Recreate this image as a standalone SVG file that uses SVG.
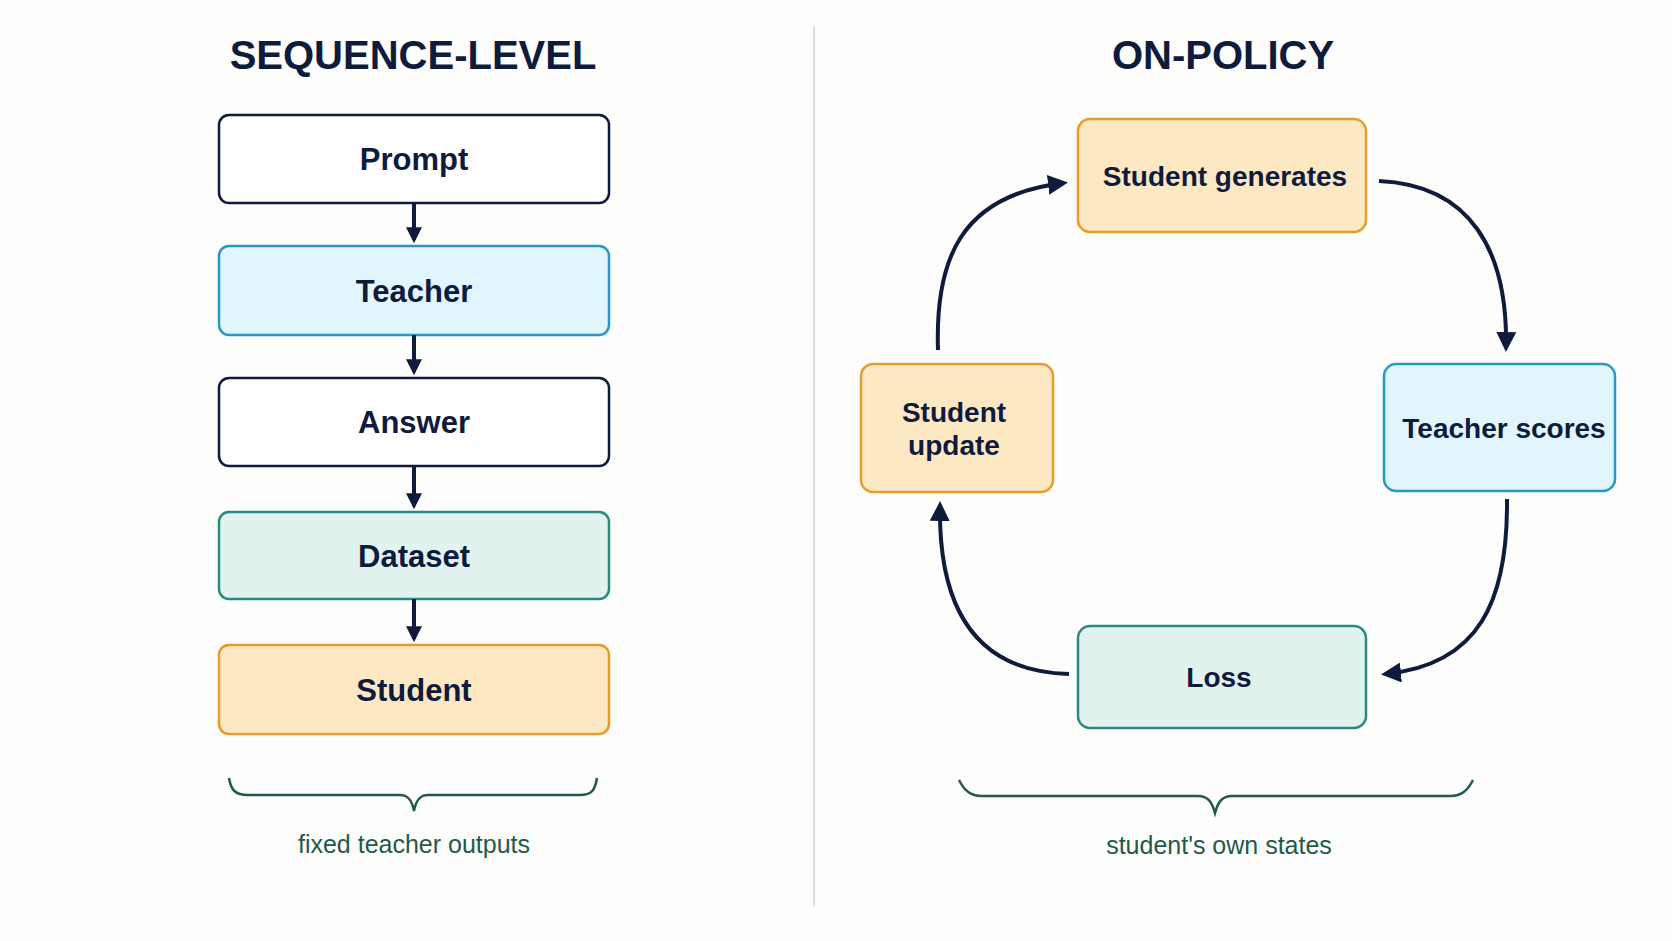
<svg xmlns="http://www.w3.org/2000/svg" width="1672" height="941" viewBox="0 0 1672 941">
<style>
.t{font-family:"Liberation Sans",Arial,sans-serif;font-weight:bold;fill:#0f1b3d;text-anchor:middle}
.h{font-size:40px}
.n{font-size:31px}
.s{font-size:28px}
.w{fill:#fff;stroke:#0f1b3d;stroke-width:2.5}
.b{fill:#e1f5fd;stroke:#2a98c6;stroke-width:2.5}
.g{fill:#e2f2ee;stroke:#2a8a80;stroke-width:2.5}
.o{fill:#fde8c4;stroke:#e89a2a;stroke-width:2.5}
.c{fill:none;stroke:#0f1b3d;stroke-width:4}
.br{fill:none;stroke:#1f5a4a;stroke-width:2.5}
.lb{font-family:"Liberation Sans",Arial,sans-serif;font-size:25px;fill:#1f5a4a;text-anchor:middle}
</style>
<defs><marker id="a" viewBox="0 0 10 10" refX="8" refY="5" markerWidth="5" markerHeight="5" orient="auto" markerUnits="strokeWidth"><path d="M0,0L10,5L0,10z" fill="#0f1b3d"/></marker>
<marker id="a2" viewBox="0 0 10 10" refX="8" refY="5" markerWidth="4" markerHeight="4" orient="auto" markerUnits="strokeWidth"><path d="M0,0L10,5L0,10z" fill="#0f1b3d"/></marker></defs>
<rect width="1672" height="941" fill="#fdfdfc"/>
<line x1="814" y1="27" x2="814" y2="906" stroke="#ddd" stroke-width="2"/>
<text class="t h" x="413" y="69">SEQUENCE-LEVEL</text>
<text class="t h" x="1223" y="69">ON-POLICY</text>
<g id="prompt"><rect class="w" x="219" y="115" width="390" height="88" rx="10"/><text class="t n" x="414" y="170">Prompt</text></g>
<g id="teacher"><rect class="b" x="219" y="246" width="390" height="89" rx="10"/><text class="t n" x="414" y="302">Teacher</text></g>
<g id="answer"><rect class="w" x="219" y="378" width="390" height="88" rx="10"/><text class="t n" x="414" y="433">Answer</text></g>
<g id="dataset"><rect class="g" x="219" y="512" width="390" height="87" rx="10"/><text class="t n" x="414" y="567">Dataset</text></g>
<g id="student"><rect class="o" x="219" y="645" width="390" height="89" rx="10"/><text class="t n" x="414" y="701">Student</text></g>
<g id="gen"><rect class="o" x="1078" y="119" width="288" height="113" rx="12"/><text class="t s" x="1225" y="186">Student generates</text></g>
<g id="scores"><rect class="b" x="1384" y="364" width="231" height="127" rx="12"/><text class="t s" x="1504" y="438">Teacher scores</text></g>
<g id="loss"><rect class="g" x="1078" y="626" width="288" height="102" rx="12"/><text class="t s" x="1219" y="687">Loss</text></g>
<g id="update"><rect class="o" x="861" y="364" width="192" height="128" rx="12"/><text class="t s" x="954" y="422">Student</text><text class="t s" x="954" y="455">update</text></g>
<g id="connectors">
<path class="c" d="M414 203V240" marker-end="url(#a2)"/>
<path class="c" d="M414 335V372" marker-end="url(#a2)"/>
<path class="c" d="M414 466V506" marker-end="url(#a2)"/>
<path class="c" d="M414 599V639" marker-end="url(#a2)"/>
<path class="c" d="M938 350C935 260 960 195 1064 183" marker-end="url(#a)"/>
<path class="c" d="M1379 181C1470 185 1508 250 1506 348" marker-end="url(#a)"/>
<path class="c" d="M1507 499C1508 600 1480 665 1385 674" marker-end="url(#a)"/>
<path class="c" d="M1069 674C985 672 938 620 940 505" marker-end="url(#a)"/>
</g>
<path class="br" d="M229 778C231 790 235 795 248 795H400C408 795 412 800 414 811C416 800 420 795 428 795H580C592 795 595 790 597 778"/>
<text class="lb" x="414" y="853">fixed teacher outputs</text>
<path class="br" d="M959 780C964 790 970 796 982 796H1198C1208 796 1212 802 1215 813C1218 802 1222 796 1232 796H1450C1462 796 1468 790 1473 780"/>
<text class="lb" x="1219" y="854">student's own states</text>
</svg>
